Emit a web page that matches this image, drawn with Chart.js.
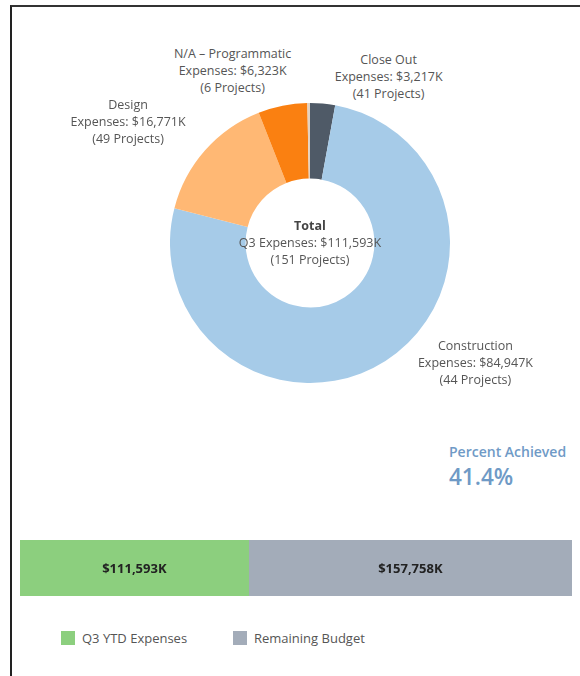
<!DOCTYPE html>
<html>
<head>
<meta charset="utf-8">
<script src="https://cdn.jsdelivr.net/npm/chart.js@4.4.1/dist/chart.umd.min.js"></script>
<style>
  html, body { margin: 0; padding: 0; background: #fff; }
  body { width: 580px; height: 676px; position: relative; overflow: hidden;
         font-family: "Open Sans", "Noto Sans", sans-serif; color: #555; }
  .frame { position: absolute; left: 10px; top: 5px; width: 580px; height: 690px;
           border-left: 2px solid #222; border-top: 2px solid #333; }
  #donutWrap { position: absolute; left: 170px; top: 103px; width: 280px; height: 280px; }
  #barWrap { position: absolute; left: 20px; top: 540px; width: 552px; height: 56px; }
  .lbl { position: absolute; text-align: center; font-size: 12.5px; line-height: 17px;
         white-space: nowrap; transform: translate(-50%, -50%); }
  .lbl b { color: #444; }
  .bar-val { position: absolute; font-size: 13px; font-weight: bold; color: #222;
             transform: translate(-50%, -50%); white-space: nowrap; }
  #pct { position: absolute; left: 449px; top: 442px; color: #6f9ac6; }
  #pct .t { font-size: 14px; font-weight: 600; }
  #pct .v { font-size: 22.5px; font-weight: 600; margin-top: 0px; }
  #legend { position: absolute; top: 629px; left: 61px; font-size: 13px; color: #555; }
  #legend span.item { position: absolute; white-space: nowrap; }
  #legend i { display: inline-block; width: 14px; height: 14px; vertical-align: -2px; margin-right: 7px; }
</style>
</head>
<body>
<div class="frame"></div>
<div id="donutWrap"><canvas id="donutChart"></canvas></div>
<div id="donutLabels"></div>
<div id="pct"><div class="t">Percent Achieved</div><div class="v" id="pctVal"></div></div>
<div id="barWrap"><canvas id="budgetChart"></canvas></div>
<div id="barLabels"></div>
<div id="legend"></div>

<script>
// === Data ===
const phaseNames = ['Close Out', 'Construction', 'Design', 'N/A - Programmatic', ''];
const phaseExpenses = [3217, 84947, 16771, 6323, 335];   // $K
const phaseProjects = [41, 44, 49, 6, 11];
const phaseColors = ['#4f5a67', '#a6cbe8', '#ffb874', '#fa8011', '#e2d2c2'];

const totalExpenses = 111593;  // $K
const totalProjects = 151;

const budgetLabels = ['Q3 YTD Expenses', 'Remaining Budget'];
const budgetValues = [111593, 157758];  // $K
const budgetColors = ['#8ccf7e', '#a3acb9'];

// label offsets from the outer edge of each slice's mid angle
const labelOffsets = [[66, -28], [90, 1], [-77, -29], [-50, -36]];

const fmt = v => '$' + v.toLocaleString('en-US') + 'K';

// === Doughnut ===
const donutLabelsEl = document.getElementById('donutLabels');

const placeDonutLabels = {
    id: 'placeDonutLabels',
    afterRender(chart) {
        if (donutLabelsEl.childElementCount) return;
        const wrap = document.getElementById('donutWrap');
        const ox = wrap.offsetLeft, oy = wrap.offsetTop;
        const arcs = chart.getDatasetMeta(0).data;
        arcs.forEach((arc, i) => {
            if (!labelOffsets[i]) return;
            const mid = (arc.startAngle + arc.endAngle) / 2;
            const x = ox + arc.x + Math.cos(mid) * arc.outerRadius + labelOffsets[i][0];
            const y = oy + arc.y + Math.sin(mid) * arc.outerRadius + labelOffsets[i][1];
            const div = document.createElement('div');
            div.className = 'lbl';
            div.style.left = x + 'px';
            div.style.top = y + 'px';
            div.innerHTML = phaseNames[i].replace(' - ', ' &ndash; ') + '<br>Expenses: ' + fmt(phaseExpenses[i]) +
                '<br>(' + phaseProjects[i] + ' Projects)';
            donutLabelsEl.appendChild(div);
        });
        const c = arcs[0];
        const tot = document.createElement('div');
        tot.className = 'lbl';
        tot.style.left = (ox + c.x) + 'px';
        tot.style.top = (oy + c.y - 1) + 'px';
        tot.innerHTML = '<b>Total</b><br>Q3 Expenses: ' + fmt(totalExpenses) + '<br>(' + totalProjects + ' Projects)';
        donutLabelsEl.appendChild(tot);
    }
};

new Chart(document.getElementById('donutChart'), {
    type: 'doughnut',
    data: {
        labels: phaseNames,
        datasets: [{
            data: phaseExpenses,
            backgroundColor: phaseColors,
            borderWidth: 0
        }]
    },
    options: {
        responsive: true,
        maintainAspectRatio: false,
        animation: false,
        cutout: '46%',
        layout: { padding: 0 },
        plugins: { legend: { display: false }, tooltip: { enabled: false } }
    },
    plugins: [placeDonutLabels]
});

// === Percent achieved ===
const budgetTotal = budgetValues.reduce((a, b) => a + b, 0);
document.getElementById('pctVal').textContent = (budgetValues[0] / budgetTotal * 100).toFixed(1) + '%';

// === Budget bar ===
const barLabelsEl = document.getElementById('barLabels');

const placeBarLabels = {
    id: 'placeBarLabels',
    afterRender(chart) {
        if (barLabelsEl.childElementCount) return;
        const wrap = document.getElementById('barWrap');
        chart.data.datasets.forEach((ds, i) => {
            const bar = chart.getDatasetMeta(i).data[0];
            const div = document.createElement('div');
            div.className = 'bar-val';
            div.style.left = (wrap.offsetLeft + (bar.x + bar.base) / 2) + 'px';
            div.style.top = (wrap.offsetTop + bar.y) + 'px';
            div.textContent = fmt(ds.data[0]);
            barLabelsEl.appendChild(div);
        });
    }
};

new Chart(document.getElementById('budgetChart'), {
    type: 'bar',
    data: {
        labels: ['Budget'],
        datasets: budgetLabels.map((label, i) => ({
            label,
            data: [budgetValues[i]],
            backgroundColor: budgetColors[i],
            borderWidth: 0,
            barPercentage: 1,
            categoryPercentage: 1
        }))
    },
    options: {
        indexAxis: 'y',
        responsive: true,
        maintainAspectRatio: false,
        animation: false,
        layout: { padding: 0 },
        scales: {
            x: { stacked: true, display: false, min: 0, max: budgetTotal },
            y: { stacked: true, display: false }
        },
        plugins: { legend: { display: false }, tooltip: { enabled: false } }
    },
    plugins: [placeBarLabels]
});

// === Legend ===
const legendEl = document.getElementById('legend');
const legendX = [0, 172];
budgetLabels.forEach((label, i) => {
    const item = document.createElement('span');
    item.className = 'item';
    item.style.left = legendX[i] + 'px';
    item.innerHTML = '<i style="background:' + budgetColors[i] + '"></i>' + label;
    legendEl.appendChild(item);
});
</script>
</body>
</html>
